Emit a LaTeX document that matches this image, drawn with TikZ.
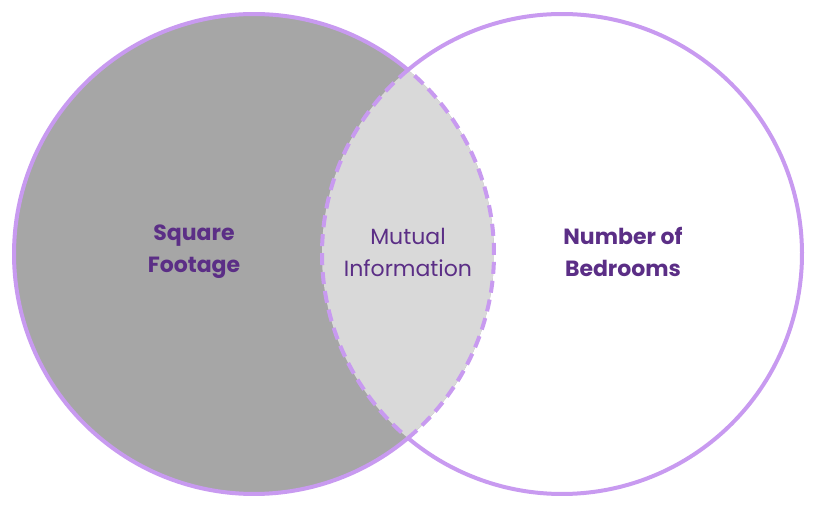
\documentclass[tikz,border=0pt]{standalone}
\usepackage{fontspec}
\setmainfont{Poppins}
\definecolor{pur}{HTML}{C89AF0}
\definecolor{txt}{HTML}{5B2E86}
\definecolor{dg}{HTML}{A6A6A6}
\definecolor{lg}{HTML}{D9D9D9}
\begin{document}
\begin{tikzpicture}[x=1pt,y=1pt,
  ring/.style={draw=pur,line width=4pt},
  lbl/.style={text=txt,align=center}]
\useasboundingbox (0,0) rectangle (816,509);
\coordinate (L) at (254,255);
\coordinate (R) at (562,255);
\fill[dg] (L) circle (240);
\begin{scope}
\clip (L) circle (240);
\fill[lg] (R) circle (240);
\end{scope}
\draw[ring] (L) ++(50.1:240) arc (50.1:309.9:240);
\draw[ring] (R) ++(129.9:240) arc (129.9:-129.9:240);
\draw[ring,dash pattern=on 12pt off 7pt] (L) ++(-50.1:240) arc (-50.1:50.1:240);
\draw[ring,dash pattern=on 12pt off 7pt] (R) ++(129.9:240) arc (129.9:230.1:240);
\node[lbl,font=\fontsize{22}{32}\selectfont\bfseries] (sf) at (194,257) {Square\\Footage};
\node[lbl,font=\fontsize{22}{32}\selectfont] (mi) at (408,257) {Mutual\\Information};
\node[lbl,font=\fontsize{22}{32}\selectfont\bfseries] (nb) at (623,257) {Number of\\Bedrooms};
\end{tikzpicture}
\end{document}
